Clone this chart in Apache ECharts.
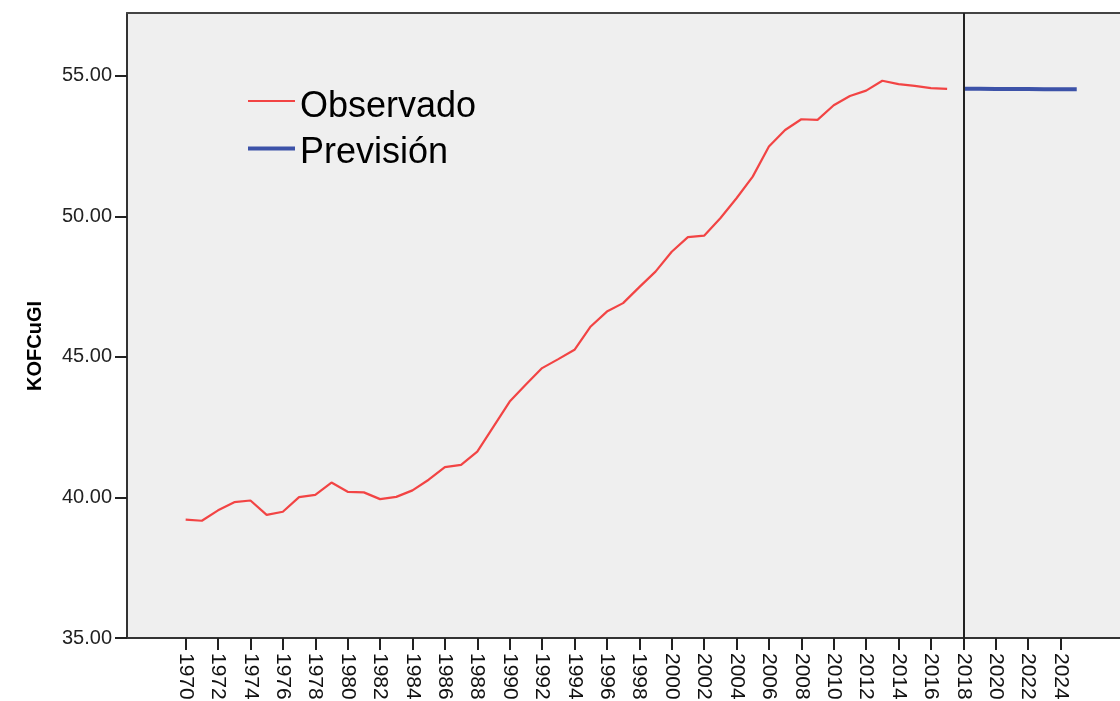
<!DOCTYPE html>
<html>
<head>
<meta charset="utf-8">
<script src="https://cdn.jsdelivr.net/npm/echarts@6/dist/echarts.min.js"></script>
<style>
html,body{margin:0;padding:0;background:#fff;}
#chart{width:1120px;height:701px;}
</style>
</head>
<body>
<div id="chart"></div>
<script>
// ---- data ----
const obsYears = [1970,1971,1972,1973,1974,1975,1976,1977,1978,1979,1980,1981,1982,1983,1984,1985,1986,1987,1988,1989,1990,1991,1992,1993,1994,1995,1996,1997,1998,1999,2000,2001,2002,2003,2004,2005,2006,2007,2008,2009,2010,2011,2012,2013,2014,2015,2016,2017];
const observado = [39.21,39.17,39.54,39.83,39.89,39.38,39.49,40.01,40.09,40.53,40.20,40.18,39.94,40.02,40.25,40.63,41.08,41.16,41.63,42.52,43.41,44.02,44.60,44.92,45.25,46.08,46.61,46.91,47.48,48.03,48.74,49.26,49.31,49.93,50.64,51.41,52.48,53.07,53.45,53.43,53.95,54.28,54.47,54.82,54.70,54.64,54.56,54.53];
const fcYears = [2018,2019,2020,2021,2022,2023,2024,2025];
const prevision = [54.54,54.54,54.53,54.53,54.53,54.52,54.52,54.52];
const xTickYears = [1970,1972,1974,1976,1978,1980,1982,1984,1986,1988,1990,1992,1994,1996,1998,2000,2002,2004,2006,2008,2010,2012,2014,2016,2018,2020,2022,2024];
const yTicks = [35,40,45,50,55];
const splitYear = 2018;
const yTitle = 'KOFCuGI';
const seriesNames = ['Observado','Previsión'];

const FONT = '"Liberation Sans", Arial, sans-serif';
const chart = echarts.init(document.getElementById('chart'), null, {renderer:'canvas'});

const xMin = 1966.38, xMax = 2027.67;
const option = {
  backgroundColor:'#ffffff',
  animation:false,
  grid:{left:127, top:13, right:0, bottom:63, show:true, backgroundColor:'#efefef', borderWidth:0, outerBoundsMode:'none', containLabel:false},
  xAxis:[{
    type:'value', min:xMin, max:xMax,
    axisLine:{show:true, onZero:false, lineStyle:{color:'#333', width:2}},
    axisTick:{show:true, length:12, customValues:xTickYears, lineStyle:{color:'#222', width:2}},
    axisLabel:{customValues:xTickYears, rotate:-90, fontSize:21, color:'#111', margin:15, fontFamily:FONT, formatter:v=>String(v)},
    splitLine:{show:false}
  },{
    type:'value', position:'top', min:xMin, max:xMax,
    axisLine:{show:true, onZero:false, lineStyle:{color:'#444', width:2}},
    axisTick:{show:false}, axisLabel:{show:false}, splitLine:{show:false}
  }],
  yAxis:{
    type:'value', min:35, max:57.23,
    axisLine:{show:true, lineStyle:{color:'#333', width:2}},
    axisTick:{show:true, length:12, customValues:yTicks, lineStyle:{color:'#222', width:2}},
    axisLabel:{customValues:yTicks, fontSize:20, color:'#222', margin:15, fontFamily:FONT, formatter:v=>Number(v).toFixed(2)},
    splitLine:{show:false}
  },
  legend:{
    orient:'vertical', left:243, top:84, itemWidth:47, itemHeight:14, itemGap:10,
    symbolKeepAspect:true,
    textStyle:{fontSize:36, color:'#000', fontFamily:FONT},
    data:[
      {name:seriesNames[0], icon:'path://M0,14L0,14M0,0L47,0L47,2L0,2Z'},
      {name:seriesNames[1], icon:'path://M0,12.8L0,12.8M0,0L47,0L47,4L0,4Z'}
    ]
  },
  graphic:[{
    type:'text', x:35, y:346, rotation:Math.PI/2,
    style:{text:yTitle, font:'bold 20px '+FONT, fill:'#000', align:'center', verticalAlign:'middle'}
  }],
  series:[
    {name:seriesNames[0], type:'line', symbol:'none', data:obsYears.map((y,i)=>[y,observado[i]]),
     lineStyle:{color:'#f24444', width:2.2}, itemStyle:{color:'#f24444'}},
    {name:seriesNames[1], type:'line', symbol:'none', data:fcYears.map((y,i)=>[y,prevision[i]]),
     lineStyle:{color:'#3c52a8', width:4}, itemStyle:{color:'#3c52a8'},
     markLine:{silent:true, symbol:['none','none'], label:{show:false},
       lineStyle:{color:'#222', width:2, type:'solid'}, data:[{xAxis:splitYear}]}}
  ]
};
chart.setOption(option);
</script>
</body>
</html>
